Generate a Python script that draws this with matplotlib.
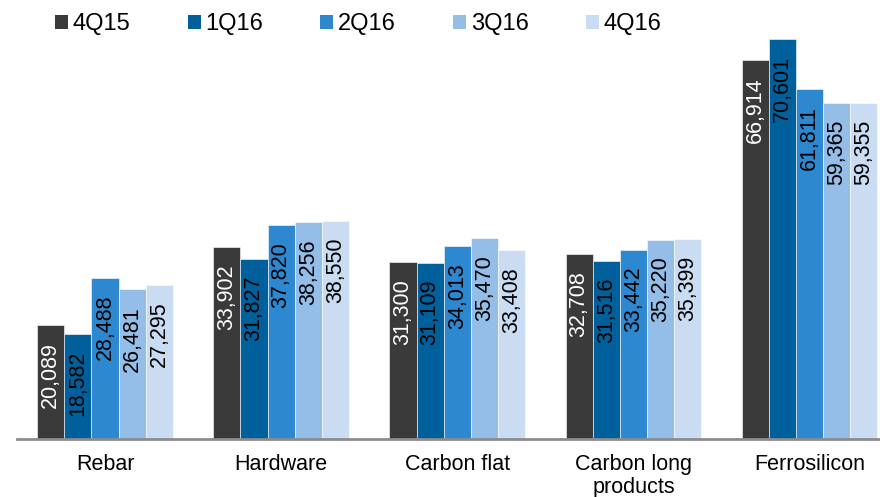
import numpy as np
import matplotlib.pyplot as plt
from matplotlib.patches import Patch

plt.rcParams['font.family'] = ['Liberation Sans', 'DejaVu Sans']

categories = ['Rebar', 'Hardware', 'Carbon flat', 'Carbon long\nproducts', 'Ferrosilicon']
quarters = ['4Q15', '1Q16', '2Q16', '3Q16', '4Q16']
q4_15 = [20089, 33902, 31300, 32708, 66914]
q1_16 = [18582, 31827, 31109, 31516, 70601]
q2_16 = [28488, 37820, 34013, 33442, 61811]
q3_16 = [26481, 38256, 35470, 35220, 59365]
q4_16 = [27295, 38550, 33408, 35399, 59355]

series = [q4_15, q1_16, q2_16, q3_16, q4_16]
colors = ['#3a3a3a', '#00609c', '#2e88cf', '#94bde8', '#c9dcf2']
label_colors = ['white', 'black', 'black', 'black', 'black']

fig = plt.figure(figsize=(8.8, 4.97), dpi=100)
ax = fig.add_axes([17 / 880, 58 / 497, 863 / 880, 424.5 / 497])

x = np.arange(len(categories))
width = 0.154
for i, vals in enumerate(series):
    pos = x + (i - 2) * width
    ax.bar(pos, vals, width, color=colors[i], edgecolor='white', linewidth=0.4)
    for px, v in zip(pos, vals):
        ax.annotate(f'{v:,}', (px, v), xytext=(0, -17), textcoords='offset pixels',
                    rotation=90, ha='center', va='top', fontsize=15.5,
                    color=label_colors[i])

ax.set_xlim(-0.5, 4.4)
ax.set_ylim(0, 75000)
ax.set_yticks([])
ax.set_xticks(x)
ax.set_xticklabels(categories, fontsize=15.5, linespacing=1.1)
ax.tick_params(axis='x', length=0, pad=11)
for s in ['top', 'right', 'left']:
    ax.spines[s].set_visible(False)
ax.spines['bottom'].set_color('#8c8c8c')
ax.spines['bottom'].set_linewidth(2)

handles = [Patch(facecolor=c, edgecolor='none') for c in colors]
fig.legend(handles, quarters, loc='upper left', bbox_to_anchor=(55 / 880, 1 - 13 / 497),
           ncol=5, frameon=False, fontsize=17, handlelength=0.55, handleheight=0.55,
           handletextpad=0.2, columnspacing=2.42, borderaxespad=0, borderpad=0)

fig.savefig('out.png', dpi=100)
